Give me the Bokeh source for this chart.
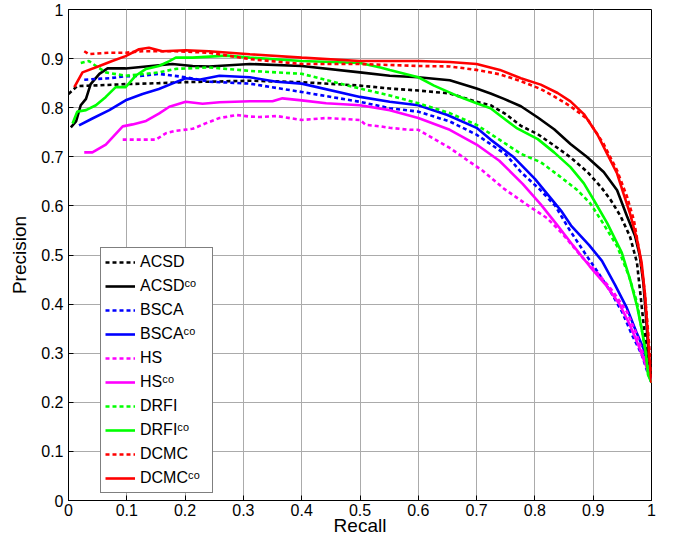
from bokeh.plotting import figure
from bokeh.models import Range1d, FixedTicker, Legend, LegendItem
from bokeh.embed import file_html
from bokeh.resources import INLINE

tick_vals = [0, 0.1, 0.2, 0.3, 0.4, 0.5, 0.6, 0.7, 0.8, 0.9, 1]
tick_labels = ["0", "0.1", "0.2", "0.3", "0.4", "0.5", "0.6", "0.7", "0.8", "0.9", "1"]

acsd_x = [0.0, 0.015, 0.041, 0.098, 0.155, 0.201, 0.242, 0.311, 0.4, 0.5, 0.551, 0.6, 0.654, 0.7, 0.724, 0.75, 0.776, 0.805, 0.833, 0.861, 0.89, 0.913, 0.93, 0.947, 0.963, 0.975, 0.98, 0.986, 0.992, 0.996, 1.0]
acsd_y = [0.828, 0.844, 0.845, 0.848, 0.850, 0.852, 0.853, 0.855, 0.852, 0.845, 0.839, 0.835, 0.829, 0.812, 0.805, 0.787, 0.763, 0.746, 0.723, 0.699, 0.669, 0.639, 0.612, 0.579, 0.538, 0.485, 0.431, 0.364, 0.303, 0.256, 0.24]

acsd_co_x = [0.004, 0.013, 0.021, 0.030, 0.038, 0.053, 0.067, 0.098, 0.133, 0.178, 0.213, 0.241, 0.311, 0.4, 0.5, 0.551, 0.6, 0.654, 0.7, 0.724, 0.747, 0.776, 0.805, 0.833, 0.861, 0.89, 0.918, 0.941, 0.958, 0.972, 0.98, 0.986, 0.99, 0.994, 0.997, 1.0]
acsd_co_y = [0.760, 0.772, 0.805, 0.818, 0.848, 0.869, 0.880, 0.880, 0.884, 0.889, 0.885, 0.884, 0.889, 0.885, 0.872, 0.865, 0.862, 0.856, 0.839, 0.829, 0.818, 0.803, 0.780, 0.756, 0.726, 0.699, 0.669, 0.632, 0.579, 0.538, 0.498, 0.444, 0.384, 0.317, 0.256, 0.24]

bsca_x = [0.027, 0.07, 0.098, 0.127, 0.155, 0.201, 0.242, 0.311, 0.4, 0.5, 0.551, 0.6, 0.654, 0.7, 0.75, 0.776, 0.808, 0.835, 0.86, 0.885, 0.908, 0.93, 0.95, 0.967, 0.983, 0.993, 1.0]
bsca_y = [0.857, 0.860, 0.864, 0.865, 0.869, 0.862, 0.853, 0.849, 0.832, 0.812, 0.799, 0.792, 0.772, 0.745, 0.705, 0.669, 0.634, 0.600, 0.550, 0.505, 0.465, 0.425, 0.383, 0.336, 0.298, 0.262, 0.24]

bsca_co_x = [0.018, 0.041, 0.07, 0.098, 0.127, 0.155, 0.184, 0.201, 0.224, 0.259, 0.311, 0.357, 0.4, 0.5, 0.551, 0.6, 0.65, 0.7, 0.724, 0.764, 0.8, 0.825, 0.845, 0.862, 0.893, 0.915, 0.937, 0.957, 0.974, 0.986, 0.994, 1.0]
bsca_co_y = [0.764, 0.778, 0.795, 0.815, 0.828, 0.838, 0.852, 0.860, 0.857, 0.865, 0.862, 0.853, 0.849, 0.822, 0.812, 0.805, 0.785, 0.759, 0.735, 0.699, 0.655, 0.619, 0.590, 0.560, 0.520, 0.488, 0.440, 0.394, 0.343, 0.31, 0.27, 0.24]

hs_x = [0.093, 0.15, 0.167, 0.184, 0.213, 0.235, 0.259, 0.288, 0.311, 0.328, 0.357, 0.4, 0.442, 0.5, 0.51, 0.535, 0.551, 0.585, 0.6, 0.625, 0.654, 0.683, 0.71, 0.747, 0.793, 0.821, 0.846, 0.879, 0.907, 0.935, 0.958, 0.975, 0.986, 1.0]
hs_y = [0.735, 0.735, 0.748, 0.753, 0.757, 0.768, 0.779, 0.785, 0.782, 0.781, 0.783, 0.775, 0.779, 0.775, 0.765, 0.762, 0.759, 0.755, 0.755, 0.738, 0.718, 0.694, 0.672, 0.635, 0.597, 0.575, 0.545, 0.498, 0.464, 0.424, 0.384, 0.337, 0.297, 0.24]

hs_co_x = [0.027, 0.041, 0.064, 0.093, 0.11, 0.133, 0.155, 0.173, 0.201, 0.23, 0.259, 0.311, 0.35, 0.367, 0.4, 0.442, 0.5, 0.551, 0.6, 0.654, 0.7, 0.739, 0.779, 0.81, 0.837, 0.865, 0.894, 0.923, 0.945, 0.962, 0.979, 0.992, 1.0]
hs_co_y = [0.709, 0.709, 0.725, 0.762, 0.766, 0.773, 0.788, 0.802, 0.812, 0.808, 0.811, 0.813, 0.813, 0.819, 0.815, 0.809, 0.805, 0.795, 0.779, 0.755, 0.725, 0.692, 0.645, 0.603, 0.563, 0.520, 0.477, 0.437, 0.400, 0.360, 0.312, 0.27, 0.24]

drfi_x = [0.021, 0.035, 0.047, 0.064, 0.098, 0.133, 0.155, 0.184, 0.241, 0.311, 0.4, 0.5, 0.551, 0.6, 0.654, 0.7, 0.739, 0.776, 0.81, 0.844, 0.873, 0.895, 0.913, 0.941, 0.961, 0.975, 0.983, 0.99, 0.995, 1.0]
drfi_y = [0.891, 0.895, 0.885, 0.872, 0.865, 0.869, 0.872, 0.879, 0.882, 0.875, 0.869, 0.839, 0.825, 0.809, 0.789, 0.765, 0.735, 0.706, 0.689, 0.659, 0.632, 0.605, 0.572, 0.518, 0.458, 0.404, 0.35, 0.303, 0.265, 0.24]

drfi_co_x = [0.007, 0.015, 0.03, 0.047, 0.064, 0.081, 0.098, 0.115, 0.133, 0.155, 0.173, 0.184, 0.213, 0.271, 0.311, 0.4, 0.5, 0.535, 0.551, 0.6, 0.627, 0.665, 0.7, 0.724, 0.739, 0.768, 0.805, 0.833, 0.861, 0.884, 0.901, 0.924, 0.949, 0.963, 0.975, 0.983, 0.99, 0.994, 1.0]
drfi_co_y = [0.768, 0.792, 0.795, 0.805, 0.822, 0.842, 0.842, 0.865, 0.879, 0.885, 0.895, 0.902, 0.902, 0.906, 0.902, 0.895, 0.891, 0.882, 0.877, 0.862, 0.845, 0.825, 0.809, 0.799, 0.785, 0.759, 0.736, 0.709, 0.679, 0.646, 0.612, 0.565, 0.505, 0.451, 0.397, 0.35, 0.303, 0.256, 0.24]

dcmc_x = [0.027, 0.035, 0.07, 0.098, 0.127, 0.184, 0.241, 0.311, 0.4, 0.5, 0.6, 0.654, 0.7, 0.74, 0.776, 0.81, 0.833, 0.861, 0.89, 0.918, 0.941, 0.958, 0.97, 0.98, 0.988, 0.993, 0.997, 1.0]
dcmc_y = [0.915, 0.909, 0.912, 0.912, 0.915, 0.915, 0.912, 0.899, 0.889, 0.889, 0.885, 0.884, 0.877, 0.868, 0.854, 0.838, 0.823, 0.803, 0.777, 0.726, 0.672, 0.619, 0.57, 0.5, 0.43, 0.36, 0.3, 0.24]

dcmc_co_x = [0.01, 0.024, 0.053, 0.075, 0.098, 0.121, 0.138, 0.161, 0.201, 0.241, 0.311, 0.4, 0.5, 0.55, 0.6, 0.654, 0.7, 0.74, 0.776, 0.81, 0.839, 0.861, 0.884, 0.907, 0.924, 0.941, 0.952, 0.963, 0.975, 0.983, 0.989, 0.993, 0.996, 1.0]
dcmc_co_y = [0.842, 0.872, 0.885, 0.895, 0.905, 0.919, 0.922, 0.915, 0.917, 0.915, 0.909, 0.902, 0.895, 0.895, 0.895, 0.893, 0.889, 0.877, 0.860, 0.847, 0.830, 0.813, 0.787, 0.746, 0.706, 0.666, 0.625, 0.585, 0.532, 0.485, 0.417, 0.350, 0.297, 0.24]

SUP = "\u1d9c\u1d52"
series = [
    ("ACSD", acsd_x, acsd_y, "#000000", True),
    ("ACSD" + SUP, acsd_co_x, acsd_co_y, "#000000", False),
    ("BSCA", bsca_x, bsca_y, "#0000FF", True),
    ("BSCA" + SUP, bsca_co_x, bsca_co_y, "#0000FF", False),
    ("HS", hs_x, hs_y, "#FF00FF", True),
    ("HS" + SUP, hs_co_x, hs_co_y, "#FF00FF", False),
    ("DRFI", drfi_x, drfi_y, "#00FF00", True),
    ("DRFI" + SUP, drfi_co_x, drfi_co_y, "#00FF00", False),
    ("DCMC", dcmc_x, dcmc_y, "#FF0000", True),
    ("DCMC" + SUP, dcmc_co_x, dcmc_co_y, "#FF0000", False),
]

FONT = "Liberation Sans"

p = figure(width=657, height=538, output_backend="svg", toolbar_location=None,
           x_range=Range1d(0, 1), y_range=Range1d(0, 1),
           min_border_left=68, min_border_right=6, min_border_top=9, min_border_bottom=34,
           background_fill_color="white", border_fill_color="white")
p.outline_line_color = "black"
p.outline_line_width = 1

for ax in (p.xaxis[0], p.yaxis[0]):
    ax.ticker = FixedTicker(ticks=tick_vals)
    ax.major_label_overrides = dict(zip(tick_vals, tick_labels))
    ax.major_tick_in = 5
    ax.major_tick_out = 0
    ax.minor_tick_line_color = None
    ax.axis_line_color = "black"
    ax.major_tick_line_color = "black"
    ax.major_label_text_font = FONT
    ax.major_label_text_font_size = "16px"
    ax.major_label_text_color = "black"
    ax.axis_label_text_font = FONT
    ax.axis_label_text_font_size = "19px"
    ax.axis_label_text_font_style = "normal"
    ax.axis_label_text_color = "black"

p.xaxis.axis_label = "Recall"
p.yaxis.axis_label = "Precision"
p.xaxis.major_label_standoff = 3
p.xaxis.axis_label_standoff = -4
p.yaxis.major_label_standoff = 5
p.yaxis.axis_label_standoff = 8

for g in (p.xgrid[0], p.ygrid[0]):
    g.ticker = FixedTicker(ticks=tick_vals)
    g.grid_line_color = "#ababab"
    g.grid_line_width = 1

items = []
for name, xs, ys, color, dotted in series:
    kw = dict(line_color=color, line_width=2.6)
    if dotted:
        kw["line_dash"] = "4 3"
    r = p.line(xs, ys, **kw)
    items.append(LegendItem(label=name, renderers=[r]))

legend = Legend(items=items, location=(32, 7))
legend.label_text_font = FONT
legend.label_text_font_size = "16px"
legend.label_text_color = "black"
legend.glyph_width = 30
legend.glyph_height = 20
legend.label_height = 20
legend.label_width = 68
legend.label_standoff = 5
legend.spacing = 4
legend.padding = 4
legend.margin = 0
legend.border_line_color = "black"
legend.border_line_width = 1
legend.background_fill_color = "white"
legend.background_fill_alpha = 1
p.add_layout(legend)

open("out.html", "w").write(file_html(p, INLINE))
